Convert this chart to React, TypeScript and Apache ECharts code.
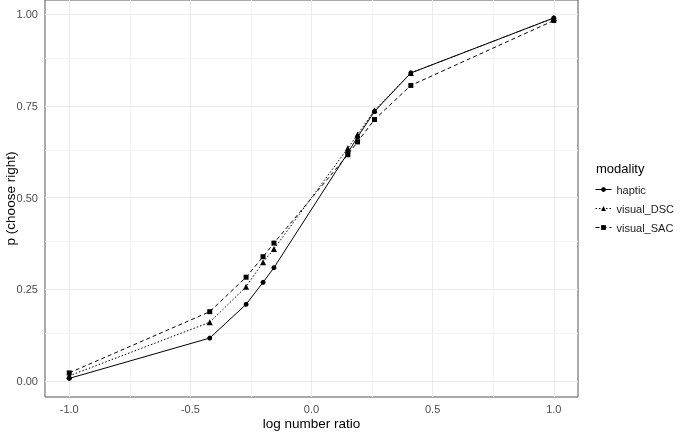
import React, { useEffect, useRef } from "react";
import * as echarts from "echarts";

const logRatio = [-1, -0.42, -0.27, -0.2, -0.155, 0.15, 0.19, 0.26, 0.41, 1];
const haptic = [0.007, 0.117, 0.209, 0.269, 0.309, 0.622, 0.665, 0.735, 0.84, 0.99];
const visualDSC = [0.014, 0.16, 0.257, 0.324, 0.36, 0.635, 0.672, 0.738, 0.84, 0.99];
const visualSAC = [0.022, 0.189, 0.283, 0.339, 0.376, 0.617, 0.652, 0.713, 0.806, 0.983];

const xTicks = [-1, -0.5, 0, 0.5, 1];
const xMinor = [-0.75, -0.25, 0.25, 0.75];
const yTicks = [0, 0.25, 0.5, 0.75, 1];
const yMinor = [0.125, 0.375, 0.625, 0.875];

const FONT = "'Liberation Sans', Arial, sans-serif";

export default function App() {
  const ref = useRef<HTMLDivElement>(null);
  useEffect(() => {
    if (!ref.current) return;
    const chart = echarts.init(ref.current, null, { renderer: "svg" });
    const pair = (ys: number[]) => logRatio.map((x, i) => [x, ys[i]]);
    const gridLines = [
      ...xTicks.map((v) => ({ xAxis: v, lineStyle: { color: "#EBEBEB", width: 1, type: "solid" } })),
      ...xMinor.map((v) => ({ xAxis: v, lineStyle: { color: "#F4F4F4", width: 1, type: "solid" } })),
      ...yTicks.map((v) => ({ yAxis: v, lineStyle: { color: "#EBEBEB", width: 1, type: "solid" } })),
      ...yMinor.map((v) => ({ yAxis: v, lineStyle: { color: "#F4F4F4", width: 1, type: "solid" } })),
    ];
    chart.setOption({
      animation: false,
      textStyle: { fontFamily: FONT },
      title: {
        text: "modality",
        left: 591,
        top: 157,
        textStyle: { fontSize: 13, fontWeight: "normal", color: "#000", fontFamily: FONT },
      },
      legend: {
        orient: "vertical",
        left: 590,
        top: 179,
        itemGap: 8,
        itemWidth: 16,
        itemHeight: 6,
        data: ["haptic", "visual_DSC", "visual_SAC"],
        lineStyle: { width: 1 },
        textStyle: { fontSize: 11, color: "#1a1a1a", fontFamily: FONT },
      },
      grid: {
        left: 45,
        right: 107,
        top: 0,
        bottom: 35,
        show: true,
        borderColor: "#555",
        borderWidth: 1,
        backgroundColor: "#fff",
        outerBoundsMode: "none",
        containLabel: false,
      },
      xAxis: {
        type: "value",
        min: -1.1,
        max: 1.1,
        name: "log number ratio",
        nameLocation: "middle",
        nameGap: 19,
        nameMoveOverlap: false,
        nameTextStyle: { fontSize: 13.5, color: "#000", fontFamily: FONT },
        axisLine: { show: false },
        splitLine: { show: false },
        axisTick: { show: true, customValues: xTicks, length: 3, lineStyle: { color: "#333" } },
        axisLabel: {
          customValues: xTicks,
          formatter: (v: number) => v.toFixed(1),
          fontSize: 11,
          color: "#4D4D4D",
          margin: 6,
          fontFamily: FONT,
        },
      },
      yAxis: {
        type: "value",
        min: -0.0437,
        max: 1.039,
        name: "p (choose right)",
        nameLocation: "middle",
        nameGap: 28,
        nameMoveOverlap: false,
        nameRotate: 90,
        nameTextStyle: { fontSize: 13.5, color: "#000", fontFamily: FONT },
        axisLine: { show: false },
        splitLine: { show: false },
        axisTick: { show: true, customValues: yTicks, length: 3, lineStyle: { color: "#333" } },
        axisLabel: {
          customValues: yTicks,
          formatter: (v: number) => v.toFixed(2),
          fontSize: 11,
          color: "#4D4D4D",
          margin: 7,
          fontFamily: FONT,
        },
      },
      series: [
        {
          name: "haptic",
          type: "line",
          data: pair(haptic),
          symbol: "circle",
          symbolSize: 5,
          itemStyle: { color: "#000" },
          lineStyle: { color: "#000", width: 1, type: "solid" },
          markLine: {
            silent: true,
            z: 1,
            symbol: ["none", "none"],
            label: { show: false },
            data: gridLines,
          },
        },
        {
          name: "visual_DSC",
          type: "line",
          data: pair(visualDSC),
          symbol: "triangle",
          symbolSize: 6,
          itemStyle: { color: "#000" },
          lineStyle: { color: "#000", width: 1, type: [1.5, 2] },
        },
        {
          name: "visual_SAC",
          type: "line",
          data: pair(visualSAC),
          symbol: "rect",
          symbolSize: 5,
          itemStyle: { color: "#000" },
          lineStyle: { color: "#000", width: 1, type: [4, 3] },
        },
      ],
    });
    return () => chart.dispose();
  }, []);
  return <div ref={ref} style={{ position: "fixed", left: 0, top: 0, width: 685, height: 432 }} />;
}
